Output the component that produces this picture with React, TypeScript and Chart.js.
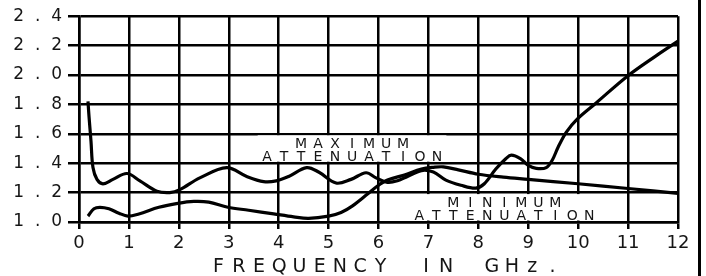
import React, { useEffect, useRef } from "react";
import { Chart, registerables } from "chart.js";

Chart.register(...registerables);

// Frequency (GHz) and attenuation values
const maxFreq = [0.18, 0.2, 0.24, 0.28, 0.36, 0.48, 0.68, 0.96, 1.22, 1.56, 1.82, 2.02, 2.42, 2.96, 3.36, 3.7, 3.95, 4.2, 4.56, 4.8, 5.15, 5.45, 5.75, 5.95, 6.18, 6.38, 6.58, 6.86, 7.1, 7.35, 7.65, 7.95, 8.12, 8.35, 8.55, 8.66, 8.85, 9.0, 9.16, 9.36, 9.48, 9.6, 9.76, 9.98, 10.36, 10.98, 11.56, 12.0];
const maxAtten = [1.82, 1.72, 1.55, 1.37, 1.29, 1.26, 1.29, 1.33, 1.28, 1.21, 1.2, 1.22, 1.3, 1.37, 1.31, 1.275, 1.28, 1.31, 1.37, 1.34, 1.265, 1.29, 1.335, 1.3, 1.27, 1.28, 1.31, 1.35, 1.34, 1.285, 1.25, 1.23, 1.26, 1.36, 1.43, 1.455, 1.43, 1.385, 1.365, 1.37, 1.42, 1.51, 1.61, 1.7, 1.81, 1.99, 2.13, 2.23];

const minFreq = [0.18, 0.3, 0.42, 0.6, 0.8, 0.98, 1.2, 1.6, 1.98, 2.3, 2.6, 2.98, 3.4, 3.9, 4.3, 4.6, 5.0, 5.25, 5.48, 5.78, 5.98, 6.18, 6.52, 6.86, 7.1, 7.3, 7.6, 8.0, 8.5, 9.0, 10.0, 11.0, 12.0];
const minAtten = [1.04, 1.09, 1.1, 1.09, 1.06, 1.04, 1.055, 1.1, 1.127, 1.14, 1.135, 1.1, 1.08, 1.055, 1.035, 1.025, 1.04, 1.065, 1.11, 1.19, 1.245, 1.285, 1.32, 1.36, 1.372, 1.375, 1.355, 1.325, 1.305, 1.29, 1.26, 1.228, 1.195];

const xTicks = { min: 0, max: 12, step: 1 };
const yTicks = { min: 1.0, max: 2.4, step: 0.2 };

const xTitle = "FREQUENCY IN GHz.";
const labelMax = ["MAXIMUM", "ATTENUATION"];
const labelMin = ["MINIMUM", "ATTENUATION"];

const FONT = "'DejaVu Sans', sans-serif";
const INK = "#151515";

function drawSpaced(ctx: CanvasRenderingContext2D, text: string, cx: number, baseline: number, pitch: number, spaceCells: number) {
  const pos: { c: string; x: number }[] = [];
  let cur = 0;
  for (const c of text) {
    if (c === " ") {
      cur += pitch * spaceCells;
    } else {
      pos.push({ c, x: cur });
      cur += pitch;
    }
  }
  const span = pos.length ? pos[pos.length - 1].x : 0;
  const off = cx - span / 2;
  ctx.textAlign = "center";
  ctx.textBaseline = "alphabetic";
  for (const p of pos) ctx.fillText(p.c, off + p.x, baseline);
}

const annotPlugin = {
  id: "annot",
  beforeDatasetsDraw(chart: any) {
    const { ctx } = chart;
    const xs = chart.scales.x;
    const ys = chart.scales.y;
    ctx.save();
    ctx.fillStyle = "#ffffff";
    const y16 = ys.getPixelForValue(1.6);
    const y14 = ys.getPixelForValue(1.4);
    const y12 = ys.getPixelForValue(1.2);
    const y10 = ys.getPixelForValue(1.0);
    const ax = xs.getPixelForValue(3.58);
    const bx = xs.getPixelForValue(7.36);
    ctx.fillRect(ax, y16 + 1.5, bx - ax, y14 - y16 - 3);
    const cx1 = xs.getPixelForValue(6.64);
    const dx1 = xs.getPixelForValue(10.38);
    ctx.fillRect(cx1, y12 + 1.5, dx1 - cx1, y10 - y12 - 3);

    ctx.fillStyle = INK;
    ctx.font = `14px ${FONT}`;
    const mcx = xs.getPixelForValue(5.47);
    drawSpaced(ctx, labelMax[0], mcx, ys.getPixelForValue(1.503), 17, 1);
    drawSpaced(ctx, labelMax[1], mcx, ys.getPixelForValue(1.413), 17, 1);
    const ncx = xs.getPixelForValue(8.52);
    drawSpaced(ctx, labelMin[0], ncx, ys.getPixelForValue(1.1), 17, 1);
    drawSpaced(ctx, labelMin[1], ncx, ys.getPixelForValue(1.013), 17, 1);
    ctx.restore();
  },
  afterDraw(chart: any) {
    const { ctx } = chart;
    const xs = chart.scales.x;
    ctx.save();
    ctx.fillStyle = INK;
    ctx.font = `19px ${FONT}`;
    drawSpaced(ctx, xTitle, xs.getPixelForValue(6.14), 272, 20.24, 1.25);
    ctx.fillStyle = "#000";
    ctx.fillRect(698, 0, 3, chart.height);
    ctx.restore();
  },
};

export default function App() {
  const ref = useRef<HTMLCanvasElement | null>(null);

  useEffect(() => {
    if (!ref.current) return;
    const maxData = maxFreq.map((f, i) => ({ x: f, y: maxAtten[i] }));
    const minData = minFreq.map((f, i) => ({ x: f, y: minAtten[i] }));
    const chart = new Chart(ref.current, {
      type: "line",
      data: {
        datasets: [
          { label: "Maximum attenuation", data: maxData, borderColor: "#000", borderWidth: 3.2, pointRadius: 0, tension: 0.35, fill: false },
          { label: "Minimum attenuation", data: minData, borderColor: "#000", borderWidth: 3.2, pointRadius: 0, tension: 0.35, fill: false },
        ],
      },
      options: {
        responsive: false,
        animation: false,
        layout: { padding: { left: 0, right: 28, top: 12, bottom: 0 } },
        plugins: { legend: { display: false }, tooltip: { enabled: false }, title: { display: false } },
        scales: {
          x: {
            type: "linear",
            min: xTicks.min,
            max: xTicks.max,
            ticks: { stepSize: xTicks.step, color: INK, font: { family: FONT, size: 18 }, padding: 4, maxRotation: 0, autoSkip: false },
            grid: { color: "#000", lineWidth: 2.5, tickLength: 7, tickColor: "#000", tickWidth: 2.5 },
            border: { display: true, color: "#000", width: 2.5 },
            afterFit: (s: any) => { s.height = 54; },
          },
          y: {
            type: "linear",
            min: yTicks.min,
            max: yTicks.max,
            ticks: {
              stepSize: yTicks.step,
              color: INK,
              font: { family: FONT, size: 17 },
              padding: 6,
              callback: (v: any) => Number(v).toFixed(1).split("").join("  "),
            },
            grid: { color: "#000", lineWidth: 2.5, tickLength: 11, tickColor: "#000", tickWidth: 2.5 },
            border: { display: true, color: "#000", width: 2.5 },
            afterFit: (s: any) => { s.width = 79; },
          },
        },
      },
      plugins: [annotPlugin],
    });
    return () => chart.destroy();
  }, []);

  return (
    <div style={{ position: "absolute", left: 0, top: 0, width: 706, height: 276, background: "#fff" }}>
      <canvas ref={ref} width={706} height={276} style={{ display: "block" }} />
    </div>
  );
}
